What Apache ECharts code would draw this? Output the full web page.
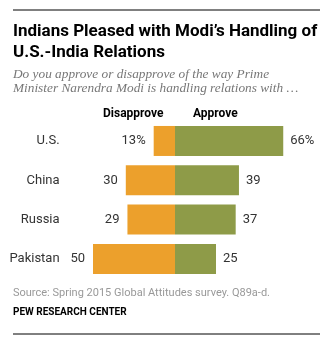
<!DOCTYPE html>
<html><head><meta charset="utf-8">
<script src="https://cdn.jsdelivr.net/npm/echarts@6/dist/echarts.min.js"></script>
<style>html,body{margin:0;padding:0;background:#fff}#c{width:332px;height:343px}</style>
</head><body><div id="c"></div>
<script>
const categories = ['U.S.', 'China', 'Russia', 'Pakistan'];
const disapprove = [13, 30, 29, 50];
const approve = [66, 39, 37, 25];
const seriesNames = ['Disapprove', 'Approve'];

const chart = echarts.init(document.getElementById('c'), null, {renderer: 'canvas'});
const sans = 'Roboto, "Liberation Sans", Arial, sans-serif';
const serif = '"Liberation Serif", "DejaVu Serif", serif';
chart.setOption({
  animation: false,
  backgroundColor: '#fff',
  grid: {left: 76.6, width: 229.6, top: 121.3, height: 157.3, containLabel: false},
  xAxis: {type: 'value', min: -60, max: 80, show: false},
  yAxis: {
    type: 'category', data: categories, inverse: true,
    axisLine: {show: false}, axisTick: {show: false}, splitLine: {show: false},
    axisLabel: {margin: 17, color: '#333', fontFamily: sans, fontSize: 13}
  },
  series: [
    {
      name: seriesNames[0], type: 'bar', stack: 'total', barWidth: 30,
      data: disapprove.map(v => -v),
      itemStyle: {color: '#ECA02C'},
      label: {show: true, position: 'left', distance: 8, color: '#333', fontFamily: sans, fontSize: 13,
        formatter: p => Math.abs(p.value) + (p.dataIndex === 0 ? '%' : '')}
    },
    {
      name: seriesNames[1], type: 'bar', stack: 'total', barWidth: 30,
      data: approve,
      itemStyle: {color: '#8E9B48'},
      label: {show: true, position: 'right', distance: 7, color: '#333', fontFamily: sans, fontSize: 13,
        formatter: p => p.value + (p.dataIndex === 0 ? '%' : '')}
    }
  ],
  graphic: [
    {type: 'line', shape: {x1: 13, y1: 10, x2: 320, y2: 10}, style: {stroke: '#000', lineWidth: 1}},
    {type: 'text', left: 13, top: 21, style: {text: 'Indians Pleased with Modi\u2019s Handling of\nU.S.-India Relations', fill: '#000', font: 'bold 17px ' + sans, lineHeight: 21}},
    {type: 'text', left: 13, top: 68, style: {text: 'Do you approve or disapprove of the way Prime\nMinister Narendra Modi is handling relations with \u2026', fill: '#777', font: 'italic 13.3px ' + serif, lineHeight: 14}},
    {type: 'text', left: 103, top: 108, style: {text: seriesNames[0], fill: '#000', font: 'bold 12px ' + sans}},
    {type: 'text', left: 193, top: 108, style: {text: seriesNames[1], fill: '#000', font: 'bold 12px ' + sans}},
    {type: 'text', left: 13, top: 288, style: {text: 'Source: Spring 2015 Global Attitudes survey. Q89a-d.', fill: '#999', font: '11px ' + sans}},
    {type: 'text', left: 13, top: 307, style: {text: 'PEW RESEARCH CENTER', fill: '#000', font: 'bold 10px ' + sans}},
    {type: 'line', shape: {x1: 13, y1: 334, x2: 320, y2: 334}, style: {stroke: '#000', lineWidth: 1}}
  ]
});
</script></body></html>
